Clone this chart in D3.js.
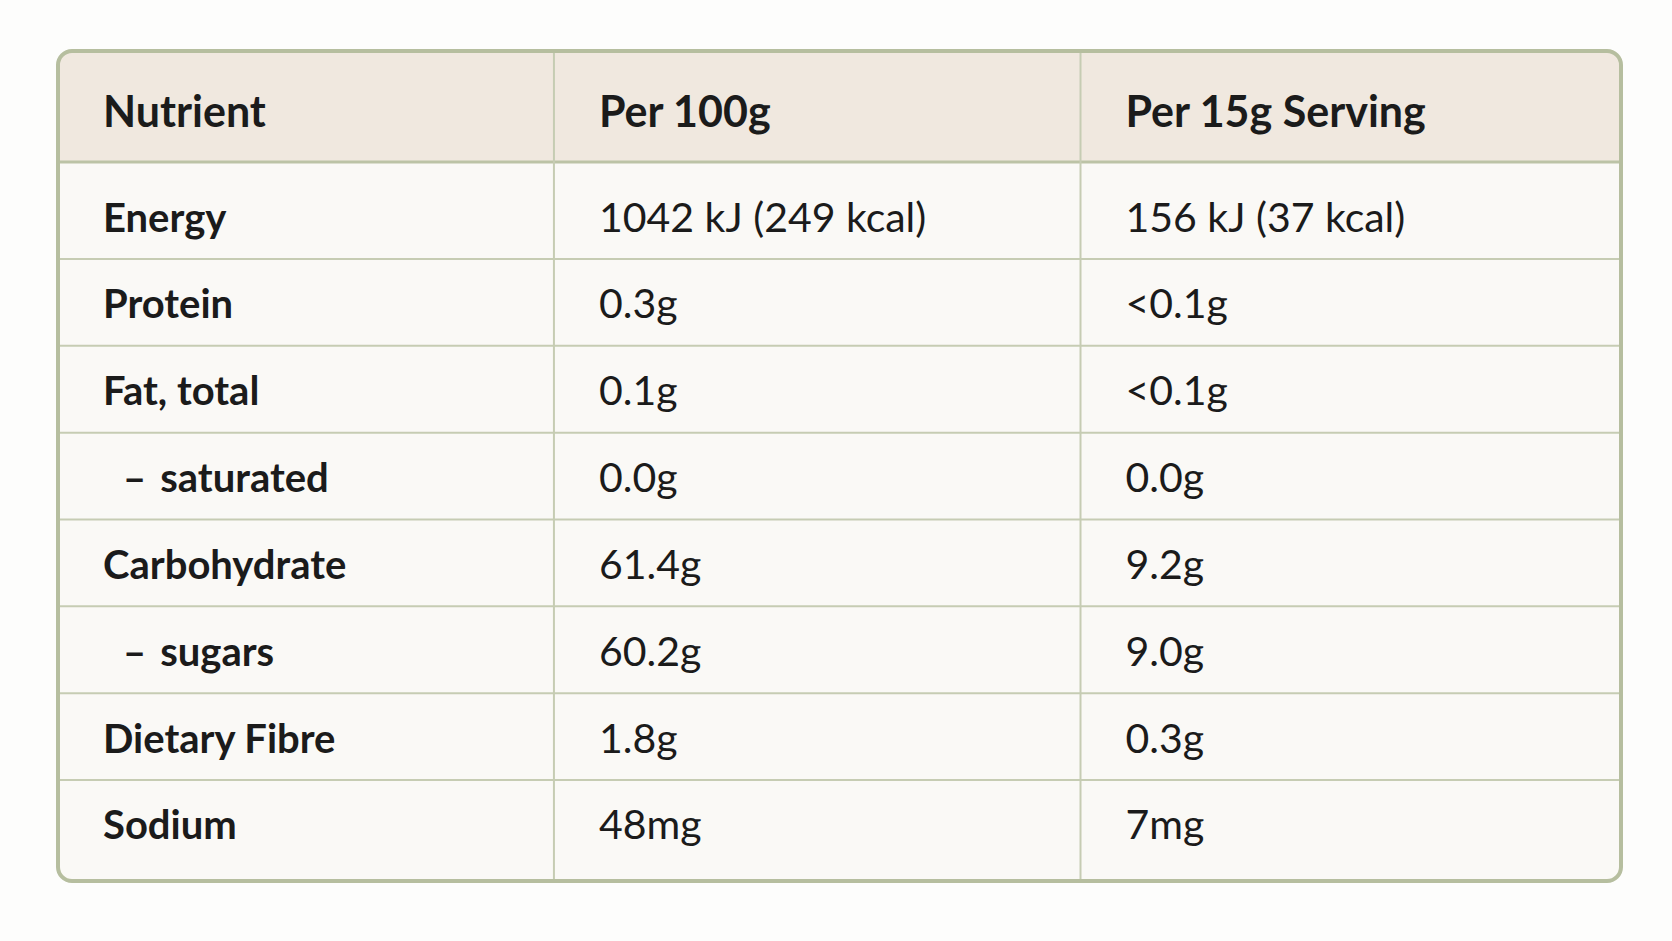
<html>
  <head>
    <script src="https://d3js.org/d3.v7.min.js"></script>
    <style>
      body { margin: 0; background: #fdfdfc; }
      text { font-family: Lato, "Open Sans", sans-serif; fill: #1b1b1b; }
    </style>
  </head>

  <body>
    <div id="vis"></div>
  </body>

  <script>
    // Table content
    var headers = ["Nutrient", "Per 100g", "Per 15g Serving"];
    var nutrients = ["Energy", "Protein", "Fat, total", "saturated", "Carbohydrate", "sugars", "Dietary Fibre", "Sodium"];
    var subRows = ["saturated", "sugars"]; // shown indented with a dash
    var per100g = ["1042 kJ (249 kcal)", "0.3g", "0.1g", "0.0g", "61.4g", "60.2g", "1.8g", "48mg"];
    var perServing = ["156 kJ (37 kcal)", "<0.1g", "<0.1g", "0.0g", "9.2g", "9.0g", "0.3g", "7mg"];

    // Page / table frame
    var W = 1672, H = 941;
    var box = { left: 58, top: 51, right: 1621, bottom: 881 };
    var headH = 111;
    var pad = 45;

    var svg = d3
      .select("#vis")
      .append("svg")
      .attr("width", W)
      .attr("height", H);

    var rows = nutrients.map(function (n, i) {
      return { name: n, sub: subRows.includes(n), cells: [n, per100g[i], perServing[i]] };
    });

    // Column scale, weights
    var colEdges = d3.scaleLinear().domain([0, 1]).range([box.left, box.right]);
    var colStart = [0, 0.3173, 0.6542, 1].map(colEdges);

    // first and last rows are a bit taller -> outer padding
    var y = d3
      .scaleBand()
      .domain(d3.range(rows.length))
      .range([box.top + headH, box.bottom])
      .paddingOuter(0.14);

    // clip for rounded corners
    svg.append("clipPath").attr("id", "clip")
      .append("rect")
      .attr("x", box.left).attr("y", box.top)
      .attr("width", box.right - box.left).attr("height", box.bottom - box.top)
      .attr("rx", 14);

    var g = svg.append("g").attr("clip-path", "url(#clip)");

    // Backgrounds
    g.append("rect")
      .attr("x", box.left).attr("y", box.top)
      .attr("width", box.right - box.left).attr("height", box.bottom - box.top)
      .attr("fill", "#faf9f6");
    g.append("rect")
      .attr("x", box.left).attr("y", box.top)
      .attr("width", box.right - box.left).attr("height", headH)
      .attr("fill", "#f0e8df");

    // Row lines
    g.selectAll(".hline")
      .data(d3.range(1, rows.length))
      .enter()
      .append("line")
      .attr("x1", box.left).attr("x2", box.right)
      .attr("y1", function (d) { return y(d) - 2; })
      .attr("y2", function (d) { return y(d) - 2; })
      .attr("stroke", "#c6ccb3")
      .attr("stroke-width", 2);

    // header bottom line
    g.append("line")
      .attr("x1", box.left).attr("x2", box.right)
      .attr("y1", box.top + headH).attr("y2", box.top + headH)
      .attr("stroke", "#bcc3a6")
      .attr("stroke-width", 3);

    // Column lines
    g.selectAll(".vline")
      .data(colStart.slice(1, 3))
      .enter()
      .append("line")
      .attr("x1", function (d) { return d; })
      .attr("x2", function (d) { return d; })
      .attr("y1", box.top).attr("y2", box.bottom)
      .attr("stroke", "#c6ccb3")
      .attr("stroke-width", 2);

    // Outer border
    svg.append("rect")
      .attr("x", box.left).attr("y", box.top)
      .attr("width", box.right - box.left).attr("height", box.bottom - box.top)
      .attr("rx", 14)
      .attr("fill", "none")
      .attr("stroke", "#b6be9f")
      .attr("stroke-width", 4);

    // Header text
    svg.selectAll(".head")
      .data(headers)
      .enter()
      .append("text")
      .attr("x", function (d, i) { return colStart[i] + pad; })
      .attr("y", box.top + headH / 2 + 20)
      .style("font-size", "43px")
      .style("font-weight", 700)
      .text(function (d) { return d; });

    // Body text
    var rowG = svg.selectAll(".row")
      .data(rows)
      .enter()
      .append("g")
      .attr("transform", function (d, i) {
        return "translate(0," + (y(i) + y.bandwidth() / 2 + 14) + ")";
      });

    rowG.each(function (d) {
      var sel = d3.select(this);
      d.cells.forEach(function (c, j) {
        var t = sel.append("text")
          .attr("x", colStart[j] + pad + (j === 0 && d.sub ? 20 : 0))
          .style("font-size", j === 0 ? "40px" : "41px")
          .style("font-weight", j === 0 ? 700 : 400);
        if (j === 0 && d.sub) {
          t.append("tspan").text("\u2013");
          t.append("tspan").attr("dx", 14).text(c);
        } else {
          t.text(c);
        }
      });
    });
  </script>
</html>
